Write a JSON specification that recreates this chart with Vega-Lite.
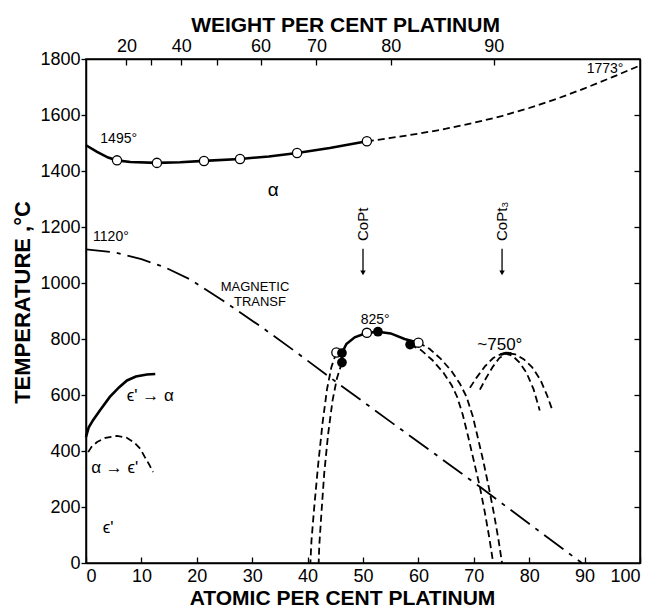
{
  "$schema": "https://vega.github.io/schema/vega-lite/v6.json",
  "autosize": "none",
  "width": 554,
  "height": 504,
  "padding": {"left": 86, "top": 59, "right": 29, "bottom": 46},
  "background": "white",
  "config": {
    "view": {"stroke": "black", "strokeWidth": 1.5},
    "font": "Liberation Sans",
    "axis": {"grid": false, "domainColor": "black", "tickColor": "black", "labelColor": "black", "titleColor": "black", "labelFont": "Liberation Sans", "titleFont": "Liberation Sans", "labelFontSize": 18, "titleFontSize": 21, "titleFontWeight": "bold", "tickWidth": 1.3, "domainWidth": 1.5}
  },
  "datasets": {
    "curves": [
      {"s": "liq", "o": 1, "x": 0, "t": 1492}, {"s": "liq", "o": 2, "x": 2, "t": 1468}, {"s": "liq", "o": 3, "x": 4, "t": 1448}, {"s": "liq", "o": 4, "x": 5.6, "t": 1438}, {"s": "liq", "o": 5, "x": 8, "t": 1432}, {"s": "liq", "o": 6, "x": 12.8, "t": 1429}, {"s": "liq", "o": 7, "x": 17, "t": 1431}, {"s": "liq", "o": 8, "x": 21.3, "t": 1436}, {"s": "liq", "o": 9, "x": 27.8, "t": 1443}, {"s": "liq", "o": 10, "x": 33, "t": 1452}, {"s": "liq", "o": 11, "x": 38.1, "t": 1464}, {"s": "liq", "o": 12, "x": 44, "t": 1482}, {"s": "liq", "o": 13, "x": 50.7, "t": 1506},
      {"s": "liqd", "o": 1, "x": 50.7, "t": 1506}, {"s": "liqd", "o": 2, "x": 55, "t": 1518}, {"s": "liqd", "o": 3, "x": 60, "t": 1533}, {"s": "liqd", "o": 4, "x": 65, "t": 1551}, {"s": "liqd", "o": 5, "x": 70, "t": 1572}, {"s": "liqd", "o": 6, "x": 75, "t": 1596}, {"s": "liqd", "o": 7, "x": 80, "t": 1625}, {"s": "liqd", "o": 8, "x": 85, "t": 1658}, {"s": "liqd", "o": 9, "x": 90, "t": 1695}, {"s": "liqd", "o": 10, "x": 95, "t": 1735}, {"s": "liqd", "o": 11, "x": 100, "t": 1777},
      {"s": "mag", "o": 1, "x": 0, "t": 1120}, {"s": "mag", "o": 2, "x": 5, "t": 1110}, {"s": "mag", "o": 3, "x": 10, "t": 1085}, {"s": "mag", "o": 4, "x": 14, "t": 1058}, {"s": "mag", "o": 5, "x": 18.8, "t": 1013}, {"s": "mag", "o": 6, "x": 25, "t": 933}, {"s": "mag", "o": 7, "x": 31.8, "t": 841}, {"s": "mag", "o": 8, "x": 38, "t": 752}, {"s": "mag", "o": 9, "x": 45.8, "t": 637}, {"s": "mag", "o": 10, "x": 55, "t": 504}, {"s": "mag", "o": 11, "x": 63, "t": 389}, {"s": "mag", "o": 12, "x": 71.1, "t": 272}, {"s": "mag", "o": 13, "x": 80, "t": 140}, {"s": "mag", "o": 14, "x": 89.5, "t": 0},
      {"s": "epsA", "o": 1, "x": 0, "t": 450}, {"s": "epsA", "o": 2, "x": 0.5, "t": 485}, {"s": "epsA", "o": 3, "x": 1.3, "t": 511}, {"s": "epsA", "o": 4, "x": 2.5, "t": 545}, {"s": "epsA", "o": 5, "x": 4.3, "t": 593}, {"s": "epsA", "o": 6, "x": 6, "t": 628}, {"s": "epsA", "o": 7, "x": 7.4, "t": 652}, {"s": "epsA", "o": 8, "x": 9, "t": 666}, {"s": "epsA", "o": 9, "x": 11, "t": 673}, {"s": "epsA", "o": 10, "x": 12.5, "t": 675},
      {"s": "epsB", "o": 1, "x": 0.4, "t": 396}, {"s": "epsB", "o": 2, "x": 1, "t": 415}, {"s": "epsB", "o": 3, "x": 2, "t": 432}, {"s": "epsB", "o": 4, "x": 3.5, "t": 447}, {"s": "epsB", "o": 5, "x": 5.6, "t": 454}, {"s": "epsB", "o": 6, "x": 7.3, "t": 448}, {"s": "epsB", "o": 7, "x": 8.8, "t": 429}, {"s": "epsB", "o": 8, "x": 9.8, "t": 408}, {"s": "epsB", "o": 9, "x": 10.6, "t": 379}, {"s": "epsB", "o": 10, "x": 11.4, "t": 352}, {"s": "epsB", "o": 11, "x": 12.1, "t": 325},
      {"s": "dome", "o": 1, "x": 46.2, "t": 716}, {"s": "dome", "o": 2, "x": 46.2, "t": 750}, {"s": "dome", "o": 3, "x": 47, "t": 782}, {"s": "dome", "o": 4, "x": 48.5, "t": 806}, {"s": "dome", "o": 5, "x": 50.7, "t": 822}, {"s": "dome", "o": 6, "x": 52.7, "t": 826}, {"s": "dome", "o": 7, "x": 55, "t": 820}, {"s": "dome", "o": 8, "x": 57.5, "t": 800}, {"s": "dome", "o": 9, "x": 60, "t": 787},
      {"s": "peak3", "o": 1, "x": 74.8, "t": 744}, {"s": "peak3", "o": 2, "x": 75.8, "t": 750}, {"s": "peak3", "o": 3, "x": 76.8, "t": 748},
      {"s": "domeLo", "o": 1, "x": 45.2, "t": 752}, {"s": "domeLo", "o": 2, "x": 44.3, "t": 700}, {"s": "domeLo", "o": 3, "x": 43.5, "t": 620}, {"s": "domeLo", "o": 4, "x": 42.7, "t": 500}, {"s": "domeLo", "o": 5, "x": 41.9, "t": 350}, {"s": "domeLo", "o": 6, "x": 41.2, "t": 200}, {"s": "domeLo", "o": 7, "x": 40.7, "t": 80}, {"s": "domeLo", "o": 8, "x": 40.5, "t": 0},
      {"s": "domeLi", "o": 1, "x": 46.2, "t": 716}, {"s": "domeLi", "o": 2, "x": 45.3, "t": 660}, {"s": "domeLi", "o": 3, "x": 44.5, "t": 580}, {"s": "domeLi", "o": 4, "x": 43.7, "t": 460}, {"s": "domeLi", "o": 5, "x": 43, "t": 320}, {"s": "domeLi", "o": 6, "x": 42.5, "t": 180}, {"s": "domeLi", "o": 7, "x": 42.1, "t": 60}, {"s": "domeLi", "o": 8, "x": 42, "t": 0},
      {"s": "domeRi", "o": 1, "x": 58.5, "t": 780}, {"s": "domeRi", "o": 2, "x": 60.5, "t": 760}, {"s": "domeRi", "o": 3, "x": 62.5, "t": 725}, {"s": "domeRi", "o": 4, "x": 64.5, "t": 680}, {"s": "domeRi", "o": 5, "x": 66, "t": 635}, {"s": "domeRi", "o": 6, "x": 67, "t": 593}, {"s": "domeRi", "o": 7, "x": 68, "t": 530}, {"s": "domeRi", "o": 8, "x": 69, "t": 450}, {"s": "domeRi", "o": 9, "x": 70, "t": 365}, {"s": "domeRi", "o": 10, "x": 71.1, "t": 271}, {"s": "domeRi", "o": 11, "x": 72, "t": 180}, {"s": "domeRi", "o": 12, "x": 72.8, "t": 90}, {"s": "domeRi", "o": 13, "x": 73.5, "t": 0},
      {"s": "domeRo", "o": 1, "x": 60, "t": 787}, {"s": "domeRo", "o": 2, "x": 62, "t": 765}, {"s": "domeRo", "o": 3, "x": 64, "t": 730}, {"s": "domeRo", "o": 4, "x": 66, "t": 685}, {"s": "domeRo", "o": 5, "x": 67.5, "t": 640}, {"s": "domeRo", "o": 6, "x": 68.7, "t": 593}, {"s": "domeRo", "o": 7, "x": 69.8, "t": 525}, {"s": "domeRo", "o": 8, "x": 70.7, "t": 450}, {"s": "domeRo", "o": 9, "x": 71.7, "t": 365}, {"s": "domeRo", "o": 10, "x": 72.7, "t": 271}, {"s": "domeRo", "o": 11, "x": 73.6, "t": 180}, {"s": "domeRo", "o": 12, "x": 74.4, "t": 90}, {"s": "domeRo", "o": 13, "x": 75.1, "t": 0},
      {"s": "pt3A", "o": 1, "x": 69.3, "t": 626}, {"s": "pt3A", "o": 2, "x": 70.5, "t": 662}, {"s": "pt3A", "o": 3, "x": 72, "t": 702}, {"s": "pt3A", "o": 4, "x": 73.5, "t": 732}, {"s": "pt3A", "o": 5, "x": 75, "t": 747}, {"s": "pt3A", "o": 6, "x": 76, "t": 750}, {"s": "pt3A", "o": 7, "x": 77.5, "t": 745}, {"s": "pt3A", "o": 8, "x": 79, "t": 728}, {"s": "pt3A", "o": 9, "x": 80.5, "t": 700}, {"s": "pt3A", "o": 10, "x": 82, "t": 655}, {"s": "pt3A", "o": 11, "x": 83.2, "t": 600}, {"s": "pt3A", "o": 12, "x": 84.2, "t": 545},
      {"s": "pt3B", "o": 1, "x": 71.1, "t": 619}, {"s": "pt3B", "o": 2, "x": 72.2, "t": 660}, {"s": "pt3B", "o": 3, "x": 73.4, "t": 700}, {"s": "pt3B", "o": 4, "x": 74.6, "t": 732}, {"s": "pt3B", "o": 5, "x": 75.8, "t": 748}, {"s": "pt3B", "o": 6, "x": 77, "t": 740}, {"s": "pt3B", "o": 7, "x": 78.3, "t": 715}, {"s": "pt3B", "o": 8, "x": 79.5, "t": 680}, {"s": "pt3B", "o": 9, "x": 80.8, "t": 620}, {"s": "pt3B", "o": 10, "x": 81.9, "t": 545}
    ],
    "points": [
      {"kind": "open", "x": 5.6, "t": 1438}, {"kind": "open", "x": 12.8, "t": 1429}, {"kind": "open", "x": 21.3, "t": 1436}, {"kind": "open", "x": 27.8, "t": 1443}, {"kind": "open", "x": 38.1, "t": 1464}, {"kind": "open", "x": 50.7, "t": 1506},
      {"kind": "open", "x": 45.2, "t": 752}, {"kind": "open", "x": 50.7, "t": 822}, {"kind": "open", "x": 60, "t": 787},
      {"kind": "filled", "x": 46.2, "t": 750}, {"kind": "filled", "x": 46.2, "t": 716}, {"kind": "filled", "x": 52.7, "t": 826}, {"kind": "filled", "x": 58.5, "t": 780}
    ],
    "labels": [
      {"g": "temp", "txt": "1495°", "x": 5.9, "t": 1514},
      {"g": "temp", "txt": "1120°", "x": 4.5, "t": 1165},
      {"g": "temp", "txt": "1773°", "x": 93.7, "t": 1763},
      {"g": "temp", "txt": "825°", "x": 52.2, "t": 868},
      {"g": "big", "txt": "~750°", "x": 74.7, "t": 779},
      {"g": "mag", "txt": "MAGNETIC", "x": 30.5, "t": 986},
      {"g": "mag", "txt": "TRANSF", "x": 31.4, "t": 932},
      {"g": "phase", "txt": "α", "x": 33.8, "t": 1332},
      {"g": "big", "txt": "ϵ' → α", "x": 11.6, "t": 596},
      {"g": "big", "txt": "α → ϵ'", "x": 5.2, "t": 339},
      {"g": "big", "txt": "ϵ'", "x": 4, "t": 125}
    ],
    "compounds": [
      {"txt": "CoPt", "x": 50, "t": 1150, "t1": 1122, "t2": 1040, "th": 1036},
      {"txt": "CoPt₃", "x": 75.1, "t": 1150, "t1": 1122, "t2": 1040, "th": 1036}
    ],
    "frame": [{"x": 0, "t": 0}]
  },
  "layer": [
    {
      "layer": [
        {
          "data": {"name": "curves"},
          "transform": [{"filter": {"field": "s", "oneOf": ["liq", "epsA", "dome", "peak3"]}}],
          "mark": {"type": "line", "color": "black", "strokeWidth": 2.6},
          "encoding": {
            "x": {"field": "x", "type": "quantitative", "scale": {"domain": [0, 100], "nice": false, "zero": false},
              "axis": {"orient": "bottom", "values": [0, 10, 20, 30, 40, 50, 60, 70, 80, 90, 100], "tickSize": -6, "labelPadding": 10, "title": "ATOMIC PER CENT  PLATINUM", "titleX": 256, "titleY": 35, "titleBaseline": "middle", "titleAlign": "center"}},
            "y": {"field": "t", "type": "quantitative", "scale": {"domain": [0, 1800], "nice": false},
              "axis": {"orient": "left", "format": "d", "values": [0, 200, 400, 600, 800, 1000, 1200, 1400, 1600, 1800], "tickSize": 5, "labelPadding": 1, "title": "TEMPERATURE ,°C", "titleFontSize": 22, "titleX": -64, "titleY": 243, "titleAngle": -90, "titleBaseline": "middle", "titleAlign": "center"}},
            "detail": {"field": "s"},
            "order": {"field": "o"}
          }
        },
        {
          "data": {"name": "curves"},
          "transform": [{"filter": {"field": "s", "oneOf": ["liqd", "epsB", "domeLo", "domeLi", "domeRi", "domeRo", "pt3A", "pt3B"]}}],
          "mark": {"type": "line", "color": "black", "strokeWidth": 1.8, "strokeDash": [7, 4]},
          "encoding": {
            "x": {"field": "x", "type": "quantitative"},
            "y": {"field": "t", "type": "quantitative"},
            "detail": {"field": "s"},
            "order": {"field": "o"}
          }
        },
        {
          "data": {"name": "curves"},
          "transform": [{"filter": {"field": "s", "equal": "mag"}}],
          "mark": {"type": "line", "color": "black", "strokeWidth": 1.8, "strokeDash": [24, 7, 4, 7]},
          "encoding": {
            "x": {"field": "x", "type": "quantitative"},
            "y": {"field": "t", "type": "quantitative"},
            "order": {"field": "o"}
          }
        },
        {
          "data": {"name": "points"},
          "transform": [{"filter": {"field": "kind", "equal": "open"}}],
          "mark": {"type": "point", "shape": "circle", "size": 85, "filled": true, "fill": "white", "stroke": "black", "strokeWidth": 1.3, "opacity": 1},
          "encoding": {
            "x": {"field": "x", "type": "quantitative"},
            "y": {"field": "t", "type": "quantitative"}
          }
        },
        {
          "data": {"name": "points"},
          "transform": [{"filter": {"field": "kind", "equal": "filled"}}],
          "mark": {"type": "point", "shape": "circle", "size": 95, "filled": true, "color": "black", "opacity": 1},
          "encoding": {
            "x": {"field": "x", "type": "quantitative"},
            "y": {"field": "t", "type": "quantitative"}
          }
        },
        {
          "data": {"name": "compounds"},
          "mark": {"type": "rule", "color": "black", "strokeWidth": 1.3},
          "encoding": {
            "x": {"field": "x", "type": "quantitative"},
            "y": {"field": "t1", "type": "quantitative"},
            "y2": {"field": "t2"}
          }
        },
        {
          "data": {"name": "compounds"},
          "mark": {"type": "point", "shape": "triangle-down", "size": 30, "filled": true, "color": "black", "opacity": 1},
          "encoding": {
            "x": {"field": "x", "type": "quantitative"},
            "y": {"field": "th", "type": "quantitative"}
          }
        },
        {
          "data": {"name": "compounds"},
          "mark": {"type": "text", "angle": 270, "align": "left", "baseline": "middle", "fontSize": 15, "font": "Liberation Sans", "color": "black"},
          "encoding": {
            "x": {"field": "x", "type": "quantitative"},
            "y": {"field": "t", "type": "quantitative"},
            "text": {"field": "txt"}
          }
        },
        {
          "data": {"name": "labels"},
          "transform": [{"filter": {"field": "g", "equal": "temp"}}],
          "mark": {"type": "text", "fontSize": 14, "font": "Liberation Sans", "color": "black"},
          "encoding": {
            "x": {"field": "x", "type": "quantitative"},
            "y": {"field": "t", "type": "quantitative"},
            "text": {"field": "txt"}
          }
        },
        {
          "data": {"name": "labels"},
          "transform": [{"filter": {"field": "g", "equal": "big"}}],
          "mark": {"type": "text", "fontSize": 17, "font": "Liberation Sans", "color": "black"},
          "encoding": {
            "x": {"field": "x", "type": "quantitative"},
            "y": {"field": "t", "type": "quantitative"},
            "text": {"field": "txt"}
          }
        },
        {
          "data": {"name": "labels"},
          "transform": [{"filter": {"field": "g", "equal": "mag"}}],
          "mark": {"type": "text", "fontSize": 13, "font": "Liberation Sans Narrow, Liberation Sans", "color": "black"},
          "encoding": {
            "x": {"field": "x", "type": "quantitative"},
            "y": {"field": "t", "type": "quantitative"},
            "text": {"field": "txt"}
          }
        },
        {
          "data": {"name": "labels"},
          "transform": [{"filter": {"field": "g", "equal": "phase"}}],
          "mark": {"type": "text", "fontSize": 19, "font": "Liberation Sans", "color": "black"},
          "encoding": {
            "x": {"field": "x", "type": "quantitative"},
            "y": {"field": "t", "type": "quantitative"},
            "text": {"field": "txt"}
          }
        }
      ]
    },
    {
      "data": {"name": "frame"},
      "mark": {"type": "point", "opacity": 0},
      "encoding": {
        "x": {"field": "x", "type": "quantitative", "scale": {"domain": [0, 100], "nice": false, "zero": false},
          "axis": {"orient": "top", "values": [7.3, 11.7, 17.2, 23.6, 31.5, 41.6, 55.0, 73.6], "labelExpr": "datum.value < 9 ? '20' : datum.value < 14 ? '' : datum.value < 20 ? '40' : datum.value < 27 ? '' : datum.value < 35 ? '60' : datum.value < 48 ? '70' : datum.value < 65 ? '80' : '90'", "tickSize": -6, "labelPadding": 10, "title": "WEIGHT PER CENT  PLATINUM", "titleX": 259, "titleY": -34, "titleBaseline": "middle", "titleAlign": "center"}},
        "y": {"field": "t", "type": "quantitative", "scale": {"domain": [0, 1800], "nice": false},
          "axis": {"orient": "right", "values": [200, 400, 600, 800, 1000, 1200, 1400, 1600], "tickSize": -6, "labels": false, "title": null, "domain": true}}
      }
    }
  ],
  "resolve": {"scale": {"x": "independent", "y": "independent"}, "axis": {"x": "independent", "y": "independent"}}
}
